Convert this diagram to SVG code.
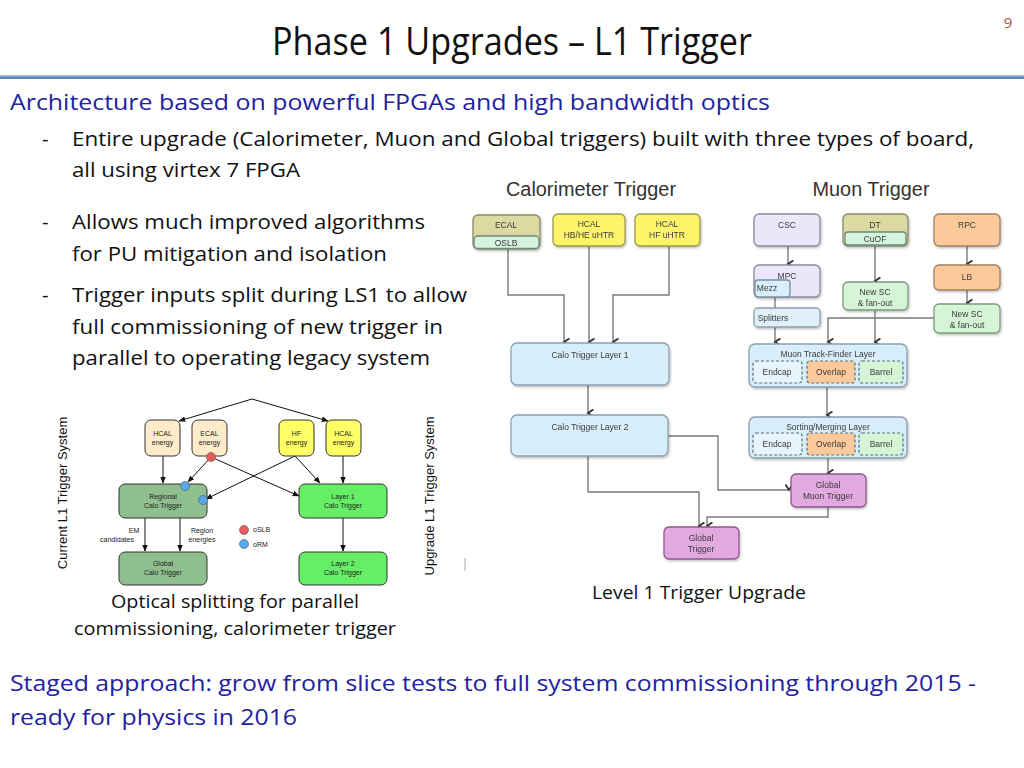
<svg xmlns="http://www.w3.org/2000/svg" width="1024" height="768" viewBox="0 0 1024 768">
<defs>
<style>
.body{font-family:"Open Sans","Noto Sans","Liberation Sans",sans-serif;fill:#111}
.blue{font-family:"Open Sans","Noto Sans","Liberation Sans",sans-serif;fill:#2222a0}
.dg{font-family:"Liberation Sans",Arial,sans-serif;fill:#333}
.nt{font-family:"Liberation Sans",Arial,sans-serif;font-size:8.5px;fill:#3a3a3a;text-anchor:middle}
.lt{font-family:"Liberation Sans",Arial,sans-serif;font-size:7px;fill:#222;text-anchor:middle}
.rc{stroke-width:1.3}
.conR{fill:none;stroke:#7a7a7a;stroke-width:1.4}
.conL{fill:none;stroke:#111;stroke-width:1}
.dash{stroke:#5a7080;stroke-width:1.2;stroke-dasharray:3,2}
</style>
<marker id="chev" viewBox="0 0 10 10" refX="5" refY="8" markerWidth="9" markerHeight="9" orient="auto-start-reverse" markerUnits="userSpaceOnUse">
<path d="M1 2 L5 8 L9 2" fill="none" stroke="#333" stroke-width="2"/>
</marker>
<marker id="tri" viewBox="0 0 10 10" refX="9" refY="5" markerWidth="7" markerHeight="7" orient="auto" markerUnits="userSpaceOnUse">
<path d="M0 1 L10 5 L0 9 Z" fill="#111"/>
</marker>
<filter id="sh" x="-10%" y="-10%" width="130%" height="140%">
<feDropShadow dx="1" dy="1.5" stdDeviation="1" flood-color="#000" flood-opacity="0.25"/>
</filter>
</defs>
<rect width="1024" height="768" fill="#ffffff"/>

<!-- header -->
<text x="512" y="55" class="body" font-size="38" text-anchor="middle" textLength="480" lengthAdjust="spacingAndGlyphs">Phase 1 Upgrades – L1 Trigger</text>
<text x="1008" y="28" font-family="Open Sans, sans-serif" font-size="15" fill="#b05048" text-anchor="middle">9</text>
<rect x="0" y="75" width="1024" height="4" fill="#5b85b8"/>
<rect x="0" y="75" width="1024" height="1.5" fill="#a9c0dc"/>

<text x="10" y="110" class="blue" font-size="22" textLength="760" lengthAdjust="spacingAndGlyphs">Architecture based on powerful FPGAs and high bandwidth optics</text>
<g class="body" font-size="20.5">
<text x="42" y="146">-</text>
<text x="72" y="146" textLength="902" lengthAdjust="spacingAndGlyphs">Entire upgrade (Calorimeter, Muon and Global triggers) built with three types of board,</text>
<text x="72" y="177" textLength="228" lengthAdjust="spacingAndGlyphs">all using virtex 7 FPGA</text>
<text x="42" y="229">-</text>
<text x="72" y="229" textLength="353" lengthAdjust="spacingAndGlyphs">Allows much improved algorithms</text>
<text x="72" y="261" textLength="315" lengthAdjust="spacingAndGlyphs">for PU mitigation and isolation</text>
<text x="42" y="302">-</text>
<text x="72" y="302" textLength="395" lengthAdjust="spacingAndGlyphs">Trigger inputs split during LS1 to allow</text>
<text x="72" y="334" textLength="371" lengthAdjust="spacingAndGlyphs">full commissioning of new trigger in</text>
<text x="72" y="365" textLength="358" lengthAdjust="spacingAndGlyphs">parallel to operating legacy system</text>
</g>

<text x="10" y="691" class="blue" font-size="22" textLength="966" lengthAdjust="spacingAndGlyphs">Staged approach: grow from slice tests to full system commissioning through 2015 -</text>
<text x="10" y="725" class="blue" font-size="22" textLength="287" lengthAdjust="spacingAndGlyphs">ready for physics in 2016</text>

<g class="body" font-size="17.5" text-anchor="middle">
<text x="235" y="608" textLength="248" lengthAdjust="spacingAndGlyphs">Optical splitting for parallel</text>
<text x="235" y="635" textLength="322" lengthAdjust="spacingAndGlyphs">commissioning, calorimeter trigger</text>
<text x="699" y="599" textLength="214" lengthAdjust="spacingAndGlyphs">Level 1 Trigger Upgrade</text>
</g>

<!-- ========== Right diagram ========== -->
<text x="591" y="196" class="dg" font-size="19.5" text-anchor="middle" textLength="170" lengthAdjust="spacingAndGlyphs">Calorimeter Trigger</text>
<text x="871" y="196" class="dg" font-size="19.5" text-anchor="middle" textLength="117" lengthAdjust="spacingAndGlyphs">Muon Trigger</text>

<g id="connectors-right">
<path class="conR" d="M508 249 V295 H564 V342" marker-end="url(#chev)"/>
<path class="conR" d="M589 246 V342" marker-end="url(#chev)"/>
<path class="conR" d="M669 246 V295 H613 V342" marker-end="url(#chev)"/>
<path class="conR" d="M588 385 V413" marker-end="url(#chev)"/>
<path class="conR" d="M668 436 H718 V490 H789" marker-end="url(#chev)"/>
<path class="conR" d="M588 456 V492 H699 V526" marker-end="url(#chev)"/>
<path class="conR" d="M828 507 V517 H707 V526" marker-end="url(#chev)"/>
<path class="conR" d="M788 246 V264" marker-end="url(#chev)"/>
<path class="conR" d="M775 297 V308"/>
<path class="conR" d="M775 327 V342" marker-end="url(#chev)"/>
<path class="conR" d="M875 246 V281" marker-end="url(#chev)"/>
<path class="conR" d="M875 310 V342" marker-end="url(#chev)"/>
<path class="conR" d="M967 246 V264" marker-end="url(#chev)"/>
<path class="conR" d="M967 290 V303" marker-end="url(#chev)"/>
<path class="conR" d="M934 318 H828 V342" marker-end="url(#chev)"/>
<path class="conR" d="M827 387 V415" marker-end="url(#chev)"/>
<path class="conR" d="M828 458 V473" marker-end="url(#chev)"/>
</g>

<g id="ecal" filter="url(#sh)">
<rect x="473" y="215" width="67" height="34" rx="5" fill="#ddd9a3" stroke="#8a8a6a" class="rc"/>
<rect x="474" y="236" width="65" height="12.5" rx="4" fill="#d4f4e0" stroke="#6a8a7a" class="rc"/>
<text x="506" y="228" class="nt">ECAL</text>
<text x="506" y="245.5" class="nt" font-size="6.5">OSLB</text>
</g>
<g id="hcal-hbhe" filter="url(#sh)">
<rect x="553" y="214" width="72" height="32" rx="5" fill="#fef46a" stroke="#9a9a50" class="rc"/>
<text x="589" y="227" class="nt">HCAL</text>
<text x="589" y="238" class="nt">HB/HE uHTR</text>
</g>
<g id="hcal-hf" filter="url(#sh)">
<rect x="635" y="214" width="65" height="32" rx="5" fill="#fef46a" stroke="#9a9a50" class="rc"/>
<text x="667" y="227" class="nt">HCAL</text>
<text x="667" y="238" class="nt">HF uHTR</text>
</g>
<g id="calo-l1" filter="url(#sh)">
<rect x="511" y="343" width="158" height="42" rx="6" fill="#d8eefa" stroke="#8aa0b0" class="rc"/>
<text x="590" y="358" class="nt">Calo Trigger Layer 1</text>
</g>
<g id="calo-l2" filter="url(#sh)">
<rect x="511" y="415" width="157" height="41" rx="6" fill="#d8eefa" stroke="#8aa0b0" class="rc"/>
<text x="590" y="430" class="nt">Calo Trigger Layer 2</text>
</g>
<g id="csc" filter="url(#sh)">
<rect x="754" y="214" width="66" height="32" rx="5" fill="#ebe6fa" stroke="#8a8aa0" class="rc"/>
<text x="787" y="228" class="nt">CSC</text>
</g>
<g id="dt" filter="url(#sh)">
<rect x="843" y="214" width="65" height="32" rx="5" fill="#ddd9a3" stroke="#8a8a6a" class="rc"/>
<rect x="845" y="232" width="61" height="13" rx="3" fill="#d4f4e0" stroke="#6a8a7a" class="rc"/>
<text x="875" y="228" class="nt">DT</text>
<text x="875" y="242" class="nt" font-size="6.5">CuOF</text>
</g>
<g id="rpc" filter="url(#sh)">
<rect x="934" y="214" width="66" height="32" rx="5" fill="#fcc99a" stroke="#a08060" class="rc"/>
<text x="967" y="228" class="nt">RPC</text>
</g>
<g id="mpc" filter="url(#sh)">
<rect x="754" y="265" width="66" height="32" rx="5" fill="#ebe6fa" stroke="#8a8aa0" class="rc"/>
<rect x="755" y="280" width="35" height="17" rx="3" fill="#d8eefa" stroke="#7a90a0" class="rc"/>
<text x="787" y="279" class="nt">MPC</text>
<text x="767" y="291" class="nt" font-size="6">Mezz</text>
</g>
<g id="lb" filter="url(#sh)">
<rect x="934" y="265" width="66" height="25" rx="5" fill="#fcc99a" stroke="#a08060" class="rc"/>
<text x="967" y="280" class="nt">LB</text>
</g>
<g id="newsc-dt" filter="url(#sh)">
<rect x="843" y="282" width="65" height="28" rx="5" fill="#d6f5d6" stroke="#7a9a7a" class="rc"/>
<text x="875" y="295" class="nt">New SC</text>
<text x="875" y="306" class="nt">&amp; fan-out</text>
</g>
<g id="newsc-rpc" filter="url(#sh)">
<rect x="934" y="304" width="66" height="29" rx="5" fill="#d6f5d6" stroke="#7a9a7a" class="rc"/>
<text x="967" y="317" class="nt">New SC</text>
<text x="967" y="328" class="nt">&amp; fan-out</text>
</g>
<g id="splitters" filter="url(#sh)">
<rect x="754" y="308" width="66" height="19" rx="4" fill="#e0f0f8" stroke="#8aa0b0" class="rc"/>
<text x="773" y="321" class="nt">Splitters</text>
</g>
<g id="muon-tf" filter="url(#sh)">
<rect x="749" y="344" width="158" height="43" rx="6" fill="#d8eefa" stroke="#8aa0b0" class="rc"/>
<text x="828" y="357" class="nt">Muon Track-Finder Layer</text>
<rect x="753" y="361" width="49" height="22" rx="3" fill="#e8f4fc" class="dash"/>
<rect x="807" y="361" width="48" height="22" rx="3" fill="#fcc99a" class="dash"/>
<rect x="859" y="361" width="44" height="22" rx="3" fill="#d6f5d6" class="dash"/>
<text x="777" y="375" class="nt">Endcap</text>
<text x="831" y="375" class="nt">Overlap</text>
<text x="881" y="375" class="nt">Barrel</text>
</g>
<g id="muon-sm" filter="url(#sh)">
<rect x="749" y="417" width="158" height="41" rx="6" fill="#d8eefa" stroke="#8aa0b0" class="rc"/>
<text x="828" y="430" class="nt">Sorting/Merging Layer</text>
<rect x="753" y="433" width="49" height="22" rx="3" fill="#e8f4fc" class="dash"/>
<rect x="807" y="433" width="48" height="22" rx="3" fill="#fcc99a" class="dash"/>
<rect x="859" y="433" width="44" height="22" rx="3" fill="#d6f5d6" class="dash"/>
<text x="777" y="447" class="nt">Endcap</text>
<text x="831" y="447" class="nt">Overlap</text>
<text x="881" y="447" class="nt">Barrel</text>
</g>
<g id="gmt" filter="url(#sh)">
<rect x="791" y="474" width="75" height="33" rx="5" fill="#e2a8e0" stroke="#8a5a8a" class="rc"/>
<text x="828" y="488" class="nt">Global</text>
<text x="828" y="499" class="nt">Muon Trigger</text>
</g>
<g id="gt" filter="url(#sh)">
<rect x="664" y="527" width="75" height="32" rx="5" fill="#e2a8e0" stroke="#8a5a8a" class="rc"/>
<text x="701" y="541" class="nt">Global</text>
<text x="701" y="552" class="nt">Trigger</text>
</g>
<line x1="465" y1="558" x2="465" y2="571" stroke="#aaa" stroke-width="1"/>

<!-- ========== Left diagram ========== -->
<text transform="translate(67,493) rotate(-90)" class="dg" font-size="13" text-anchor="middle" style="fill:#111">Current L1 Trigger System</text>
<text transform="translate(434,496) rotate(-90)" class="dg" font-size="13" text-anchor="middle" style="fill:#111">Upgrade L1 Trigger System</text>

<g id="connectors-left">
<path class="conL" d="M252 399 L179 421" marker-end="url(#tri)"/>
<path class="conL" d="M252 399 L328 421" marker-end="url(#tri)"/>
<path class="conL" d="M163 456 V483" marker-end="url(#tri)"/>
<path class="conL" d="M211 457 L188 482" marker-end="url(#tri)"/>
<path class="conL" d="M211 457 L299 496" marker-end="url(#tri)"/>
<path class="conL" d="M295 456 L206 499" marker-end="url(#tri)"/>
<path class="conL" d="M295 456 L320 483" marker-end="url(#tri)"/>
<path class="conL" d="M145 518 V551" marker-end="url(#tri)"/>
<path class="conL" d="M180 518 V551" marker-end="url(#tri)"/>
<path class="conL" d="M343 456 V483" marker-end="url(#tri)"/>
<path class="conL" d="M343 518 V551" marker-end="url(#tri)"/>
</g>

<g id="hcal-energy-cur">
<rect x="145" y="420" width="35" height="36" rx="6" fill="#fdebc9" stroke="#333"/>
<text x="162.5" y="436" class="lt">HCAL</text>
<text x="162.5" y="445" class="lt">energy</text>
</g>
<g id="ecal-energy-cur">
<rect x="192" y="420" width="35" height="36" rx="6" fill="#fdebc9" stroke="#333"/>
<text x="209.5" y="436" class="lt">ECAL</text>
<text x="209.5" y="445" class="lt">energy</text>
</g>
<g id="hf-energy">
<rect x="279" y="420" width="35" height="36" rx="6" fill="#ffff66" stroke="#333"/>
<text x="296.5" y="436" class="lt">HF</text>
<text x="296.5" y="445" class="lt">energy</text>
</g>
<g id="hcal-energy-upg">
<rect x="326" y="420" width="35" height="36" rx="6" fill="#ffff66" stroke="#333"/>
<text x="343.5" y="436" class="lt">HCAL</text>
<text x="343.5" y="445" class="lt">energy</text>
</g>
<g id="regional-calo">
<rect x="119" y="484" width="88" height="34" rx="6" fill="#8fbf8f" stroke="#333"/>
<text x="163" y="499" class="lt">Regional</text>
<text x="163" y="508" class="lt">Calo Trigger</text>
</g>
<g id="global-calo">
<rect x="119" y="552" width="88" height="33" rx="6" fill="#8fbf8f" stroke="#333"/>
<text x="163" y="566" class="lt">Global</text>
<text x="163" y="575" class="lt">Calo Trigger</text>
</g>
<g id="layer1">
<rect x="299" y="484" width="88" height="34" rx="6" fill="#66ee66" stroke="#333"/>
<text x="343" y="499" class="lt">Layer 1</text>
<text x="343" y="508" class="lt">Calo Trigger</text>
</g>
<g id="layer2">
<rect x="299" y="552" width="88" height="33" rx="6" fill="#66ee66" stroke="#333"/>
<text x="343" y="566" class="lt">Layer 2</text>
<text x="343" y="575" class="lt">Calo Trigger</text>
</g>
<g id="splitters-left">
<circle cx="211" cy="457" r="4.5" fill="#ee5a5a" stroke="#555" stroke-width="0.6"/>
<circle cx="185" cy="486" r="4.5" fill="#55aaee" stroke="#555" stroke-width="0.6"/>
<circle cx="203" cy="500" r="4.5" fill="#55aaee" stroke="#555" stroke-width="0.6"/>
</g>
<g id="labels-left">
<text x="134" y="533" class="lt">EM</text>
<text x="117" y="542" class="lt">candidates</text>
<text x="202" y="533" class="lt">Region</text>
<text x="202" y="542" class="lt">energies</text>
</g>
<g id="legend">
<circle cx="244" cy="530" r="4.5" fill="#ee5a5a" stroke="#555" stroke-width="0.6"/>
<circle cx="244" cy="544" r="4.5" fill="#55aaee" stroke="#555" stroke-width="0.6"/>
<text x="253" y="532" class="lt" style="text-anchor:start">oSLB</text>
<text x="253" y="547" class="lt" style="text-anchor:start">oRM</text>
</g>
</svg>
